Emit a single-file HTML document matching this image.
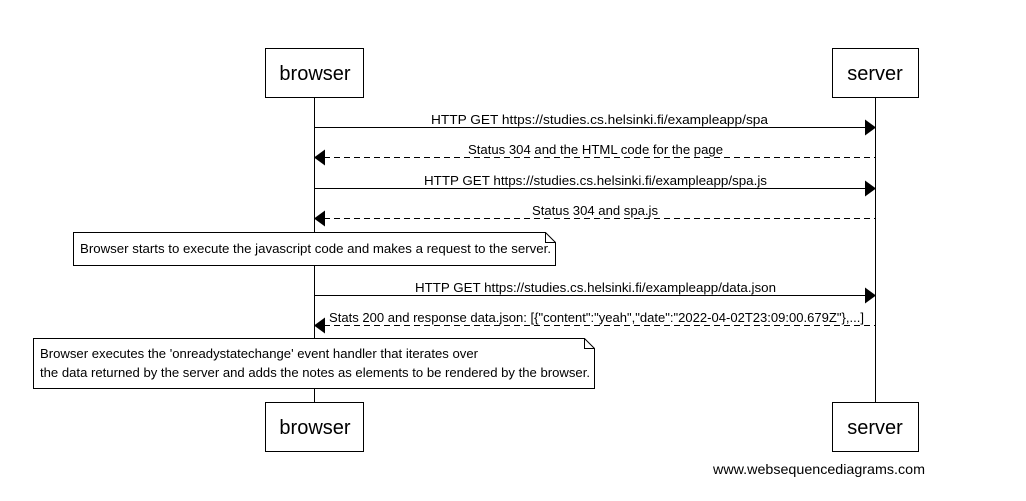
<!DOCTYPE html>
<html><head><style>body{margin:0;background:#fff}svg{display:block}</style></head>
<body>
<svg width="1026" height="501" xmlns="http://www.w3.org/2000/svg" font-family="Liberation Sans, Arial, sans-serif">
<rect width="1026" height="501" fill="#fff"/>
<g stroke="#000" stroke-width="1" fill="none">
<line x1="314.5" y1="97" x2="314.5" y2="402"/>
<line x1="875.5" y1="97" x2="875.5" y2="402"/>
<rect x="265.5" y="48.5" width="98" height="49" fill="#fff"/>
<rect x="832.5" y="48.5" width="86" height="49" fill="#fff"/>
<rect x="265.5" y="402.5" width="98" height="49" fill="#fff"/>
<rect x="832.5" y="402.5" width="86" height="49" fill="#fff"/>
<line x1="314" y1="127.5" x2="866" y2="127.5"/>
<line x1="324" y1="157.5" x2="875" y2="157.5" stroke-dasharray="6,4"/>
<line x1="314" y1="188.5" x2="866" y2="188.5"/>
<line x1="324" y1="218.5" x2="875" y2="218.5" stroke-dasharray="6,4"/>
<line x1="314" y1="295.5" x2="866" y2="295.5"/>
<line x1="324" y1="325.5" x2="875" y2="325.5" stroke-dasharray="6,4"/>
<path d="M73.5 232.5 H545.5 L555.5 242.5 V265.5 H73.5 Z M545.5 232.5 V242.5 H555.5" fill="#fff"/>
<path d="M33.5 338.5 H584.5 L594.5 348.5 V388.5 H33.5 Z M584.5 338.5 V348.5 H594.5" fill="#fff"/>
</g>
<g fill="#000">
<path d="M876 127.5 L865 119.5 L865 135.5Z"/>
<path d="M314 157.5 L325 149.5 L325 165.5Z"/>
<path d="M876 188.5 L865 180.5 L865 196.5Z"/>
<path d="M314 218.5 L325 210.5 L325 226.5Z"/>
<path d="M876 295.5 L865 287.5 L865 303.5Z"/>
<path d="M314 325.5 L325 317.5 L325 333.5Z"/>
</g>
<g font-size="20" text-anchor="middle">
<text x="315" y="80">browser</text>
<text x="875" y="80">server</text>
<text x="315" y="434">browser</text>
<text x="875" y="434">server</text>
</g>
<g font-size="13" lengthAdjust="spacingAndGlyphs">
<text x="431" y="124" textLength="337" lengthAdjust="spacingAndGlyphs">HTTP GET https://studies.cs.helsinki.fi/exampleapp/spa</text>
<text x="468" y="154" textLength="255" lengthAdjust="spacingAndGlyphs">Status 304 and the HTML code for the page</text>
<text x="424" y="185" textLength="343" lengthAdjust="spacingAndGlyphs">HTTP GET https://studies.cs.helsinki.fi/exampleapp/spa.js</text>
<text x="532" y="215" textLength="126" lengthAdjust="spacingAndGlyphs">Status 304 and spa.js</text>
<text x="415" y="292" textLength="361" lengthAdjust="spacingAndGlyphs">HTTP GET https://studies.cs.helsinki.fi/exampleapp/data.json</text>
<text x="329" y="322" textLength="535" lengthAdjust="spacingAndGlyphs">Stats 200 and response data.json: [{"content":"yeah","date":"2022-04-02T23:09:00.679Z"},...]</text>
<text x="80" y="253" textLength="471" lengthAdjust="spacingAndGlyphs">Browser starts to execute the javascript code and makes a request to the server.</text>
<text x="40" y="358" textLength="438" lengthAdjust="spacingAndGlyphs">Browser executes the 'onreadystatechange' event handler that iterates over</text>
<text x="40" y="377" textLength="550" lengthAdjust="spacingAndGlyphs">the data returned by the server and adds the notes as elements to be rendered by the browser.</text>
<text x="713" y="474" font-size="14" textLength="212" lengthAdjust="spacingAndGlyphs">www.websequencediagrams.com</text>
</g>
</svg>
</body></html>
